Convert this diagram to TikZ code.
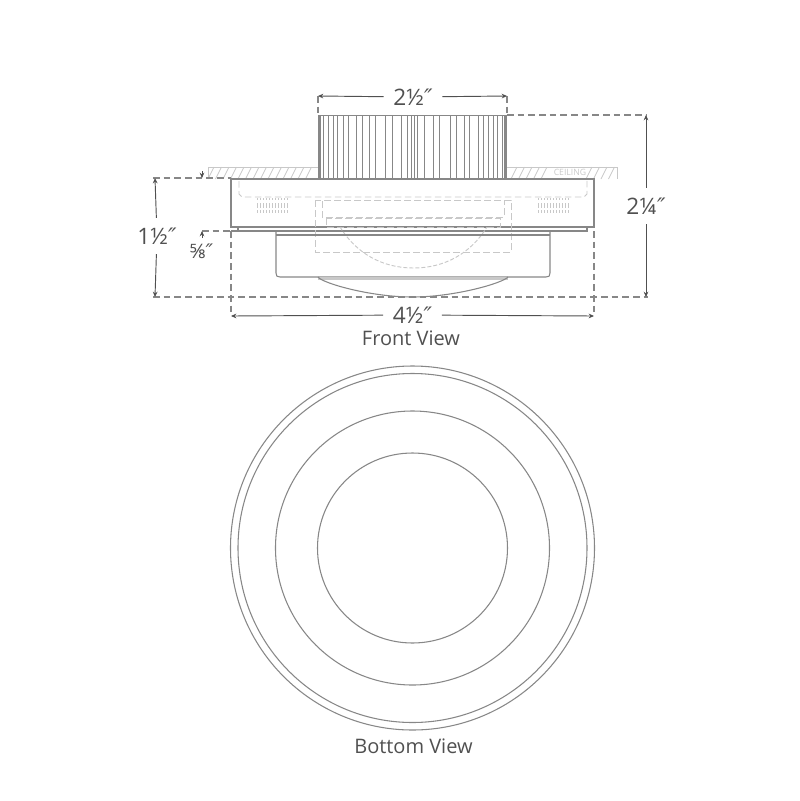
\documentclass[tikz,border=0pt]{standalone}
\usepackage{fontspec}
\setmainfont{Open Sans}
\newfontfamily\primefont{DejaVu Sans}
\usetikzlibrary{arrows.meta}
\newcommand{\inch}{{\primefont\itshape\char"2033}}
\definecolor{inkdark}{RGB}{80,80,80}
\definecolor{linemid}{RGB}{135,135,135}
\definecolor{linelight}{RGB}{200,200,200}
\tikzset{every picture/.style={line width=0.75pt}}
\tikzset{
  outline/.style={draw=linemid,line width=0.8pt},
  hidden/.style={draw=linelight,dash pattern=on 5pt off 2.5pt,line width=0.7pt},
  extline/.style={draw=linemid,dash pattern=on 5pt off 3pt,line width=0.8pt},
  dimline/.style={draw=inkdark,line width=0.7pt,-{Stealth[length=4pt,width=3.5pt]}},
  hatchline/.style={draw=linelight,line width=0.6pt},
  rib/.style={draw=linemid,line width=0.6pt},
  dimlabel/.style={text=inkdark,inner sep=7pt,font=\fontsize{17}{17}\selectfont},
  caption/.style={text=inkdark,inner sep=0pt,font=\fontsize{15}{15}\selectfont}
}

\begin{document}
\begin{tikzpicture}[x=0.75pt,y=0.75pt,yscale=-1,xscale=1]
\useasboundingbox (0,0) rectangle (800,801);

%Ceiling hatch
\draw [hatchline] (208,167) -- (318,167) (208,167) -- (208,179) ;
\draw [hatchline] (507,167) -- (617,167) -- (617,179) ;
\foreach \hx in {208,215.5,...,312}{
  \draw [hatchline] (\hx,179) -- (\hx+6,167) ;
}
\foreach \hx in {511,518.5,...,541,586,593.5,...,610}{
  \draw [hatchline] (\hx,179) -- (\hx+6,167) ;
}
\node (ceiling) [text=linelight,inner sep=0pt,font=\fontsize{6.5}{7}\selectfont] at (570,172) {CEILING};

%Ribbed neck
\draw [rib] (318,115) -- (507,115) ;
\foreach \rx in {318,320,323,328,333,337,343,348,356,362,369,375,385,392,401,407,411,414,417,424,433,439,450,456,464,469,478,483,488,493,497,502}{
  \draw [rib] (\rx,115) -- (\rx,179) ;
}
\fill [linemid] (504,115) rectangle (507,179) ;
\fill [linemid] (318,115) rectangle (320,179) ;

%Canopy box
\draw [outline] (231,179) -- (594,179) -- (594,227) -- (231,227) -- cycle ;
\draw [outline] (231,231) -- (587,231) -- (587,227) ;
\draw [outline] (238,227) -- (238,231) ;

%Hidden parts
\draw [hidden] (239,181) -- (239,194) -- (242,197) -- (584,197) -- (587,194) -- (587,180) ;
\draw [hidden] (315,200) rectangle (511,252) ;
\draw [hidden] (322,201) -- (322,217) -- (504,217) -- (504,201) ;
\draw [hidden] (326,218) rectangle (500,227) ;
\draw [hidden,dash pattern=on 3pt off 1.5pt] (340,227) .. controls (356,253) and (382,268) .. (413.5,268) .. controls (445,268) and (471,253) .. (487,227) ;

%Vents
\foreach \vx in {257,538}{
  \foreach \vi in {0,3,...,30}{
    \draw [draw=linelight,line width=0.7pt] (\vx+\vi,198) -- (\vx+\vi,200) ;
    \draw [draw=linelight,line width=0.7pt] (\vx+\vi,203) -- (\vx+\vi,208) ;
    \draw [draw=linelight,line width=0.7pt] (\vx+\vi,210) -- (\vx+\vi,213) ;
  }
}

%Shade
\draw [outline] (276,231) -- (276,273) .. controls (276,276) and (277,277) .. (280,277) -- (546,277) .. controls (549,277) and (550,276) .. (550,273) -- (550,231) ;
\draw [outline] (276,235) -- (550,235) ;
\fill [linelight] (318,277) rectangle (508,280) ;
\draw [outline] (318,277) .. controls (322,283) and (370,297) .. (412.5,297) .. controls (455,297) and (503,283) .. (508,277) ;

%Extension lines
\coordinate (topL) at (318,96) ;
\coordinate (topR) at (507,96) ;
\coordinate (neckTop) at (646,115) ;
\coordinate (baseR) at (646,297) ;
\coordinate (leftTop) at (155,178) ;
\coordinate (leftBot) at (155,297) ;
\coordinate (widthL) at (231,316) ;
\coordinate (widthR) at (594,316) ;
\coordinate (gapTop) at (202,178) ;
\coordinate (gapBot) at (202,231) ;
\draw [extline] (318,96) -- (318,115) ;
\draw [extline] (507,96) -- (507,115) ;
\draw [extline] (507,115) -- (neckTop) ;
\draw [extline] (153,297) -- (648,297) ;
\draw [extline] (153,178) -- (231,178) ;
\draw [extline] (202,231) -- (231,231) ;
\draw [extline] (231,231) -- (widthL) ;
\draw [extline] (594,231) -- (widthR) ;

%Dimensions
\node (dimNeck) [dimlabel] at (413,97) {2½\inch};
\node (dimHeight) [dimlabel] at (646,206) {2¼\inch};
\node (dimBase) [dimlabel] at (157,236) {1½\inch};
\node (dimWidth) [dimlabel] at (412.5,315) {4½\inch};
\node (dimGap) [dimlabel,inner sep=0pt,font=\fontsize{15}{15}\selectfont] at (201.5,251) {⅝\inch};
\draw [dimline] (dimNeck) -- (topL) ;
\draw [dimline] (dimNeck) -- (topR) ;
\draw [dimline] (dimHeight) -- (neckTop) ;
\draw [dimline] (dimHeight) -- (baseR) ;
\draw [dimline] (dimBase) -- (leftTop) ;
\draw [dimline] (dimBase) -- (leftBot) ;
\draw [dimline] (dimWidth) -- (widthL) ;
\draw [dimline] (dimWidth) -- (widthR) ;
\draw [dimline] (202,171) -- (gapTop) ;
\draw [dimline] (202,238) -- (gapBot) ;

%Captions
\node (frontView) [caption] at (411,338) {Front View};
\node (bottomView) [caption] at (413.5,746) {Bottom View};

%Bottom view
\draw [outline] (412.5,548) circle [radius=182] ;
\draw [outline] (412.5,548) circle [radius=174.5] ;
\draw [outline] (412.5,548) circle [radius=137] ;
\draw [outline] (412.5,548) circle [radius=95] ;

\end{tikzpicture}
\end{document}
